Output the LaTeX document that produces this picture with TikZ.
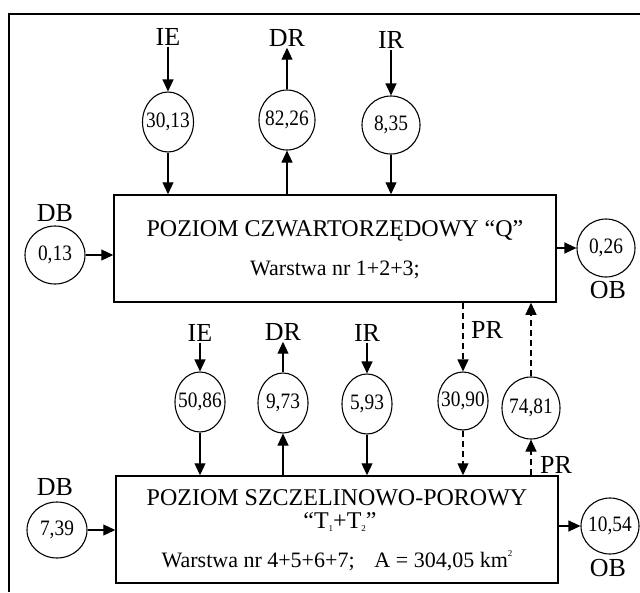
\documentclass[tikz,border=0pt]{standalone}
\usepackage{fontspec}
\setmainfont{Liberation Serif}
\usetikzlibrary{shapes.geometric,arrows.meta}
\newcommand{\numtxt}[1]{\makebox[0pt]{\scalebox{0.88}[1]{#1}}}
\newcommand{\smallidx}[1]{\raisebox{-0.25ex}{\fontsize{9}{9}\selectfont #1}}
\newcommand{\smallsup}[1]{\raisebox{1.1ex}{\fontsize{9}{9}\selectfont #1}}
\begin{document}
\begin{tikzpicture}[x=1pt,y=-1pt,
  circ/.style={ellipse,draw,line width=1.1pt,inner sep=0pt,minimum width=50pt,minimum height=60pt,font=\fontsize{22}{22}\selectfont},
  lab/.style={inner sep=1pt,font=\fontsize{26}{26}\selectfont},
  box/.style={draw,line width=1.5pt,minimum width=442pt,minimum height=107pt,inner sep=0pt},
  arr/.style={line width=1.1pt,-{Triangle[length=12pt,width=11pt]}},
  darr/.style={arr,dash pattern=on 6pt off 4pt},
  ttl/.style={inner sep=0pt,font=\fontsize{24}{24}\selectfont},
  sub/.style={inner sep=0pt,font=\fontsize{22}{22}\selectfont}]
\useasboundingbox (0,0) rectangle (640,592);
% frame
\coordinate (fr1) at (640,14);
\coordinate (fr2) at (9,14);
\coordinate (fr3) at (9,592);
\draw[line width=1.5pt] (fr1) -- (fr2) -- (fr3);

% boxes
\node[box] (Q) at (335,248.5) {};
\node[ttl] (qt1) at (335,231) {POZIOM CZWARTORZĘDOWY “Q”};
\node[sub] (qt2) at (335,270) {Warstwa nr 1+2+3;};

\node[box] (T) at (337,529.5) {};
\node[ttl] (tt1) at (337,498) {POZIOM SZCZELINOWO-POROWY};
\node[ttl] (tt2) at (340,522) {“T\smallidx{1}+T\smallidx{2}”};
\node[sub] (tt3) at (337,561) {Warstwa nr 4+5+6+7;\hspace{0.9em}A = 304,05 km\smallsup{2}};

% top row
\node[lab] (ie1) at (168,37) {IE};
\node[circ,minimum width=51pt] (c1) at (168,122) {\numtxt{30,13}};
\node[lab] (dr1) at (287,38) {DR};
\node[circ,minimum width=56pt] (c2) at (287,120) {\numtxt{82,26}};
\node[lab] (ir1) at (391,40) {IR};
\node[circ,minimum width=58pt,minimum height=58pt] (c3) at (391,125) {\numtxt{8,35}};
\draw[arr] (ie1) -- (c1);
\draw[arr] (c1) -- (c1 |- Q.north);
\draw[arr] (c2) -- (dr1);
\draw[arr] (c2 |- Q.north) -- (c2);
\draw[arr] (ir1) -- (c3);
\draw[arr] (c3) -- (c3 |- Q.north);

% left / right of Q
\node[lab] (db1) at (55,213) {DB};
\node[circ,minimum width=60pt,minimum height=58pt] (d1) at (55,255) {\numtxt{0,13}};
\draw[arr] (d1) -- (d1 -| Q.west);
\node[circ,minimum width=58pt,minimum height=58pt] (o1) at (606,248) {\numtxt{0,26}};
\node[lab] (ob1) at (608,290) {OB};
\draw[arr] (o1 -| Q.east) -- (o1);

% middle row
\node[lab] (ie2) at (200,333) {IE};
\node[circ] (c4) at (200,402) {\numtxt{50,86}};
\node[lab] (dr2) at (283,332) {DR};
\node[circ] (c5) at (283,403) {\numtxt{9,73}};
\node[lab] (ir2) at (367,333) {IR};
\node[circ] (c6) at (367,404) {\numtxt{5,93}};
\node[circ,minimum height=58pt] (c7) at (463,401) {\numtxt{30,90}};
\node[lab] (pr1) at (487,330) {PR};
\node[circ,minimum width=58pt,minimum height=62pt] (c8) at (531,408) {\numtxt{74,81}};
\node[lab] (pr2) at (556,465) {PR};

\draw[arr] (ie2) -- (c4);
\draw[arr] (c4) -- (c4 |- T.north);
\draw[arr] (c5) -- (dr2);
\draw[arr] (c5 |- T.north) -- (c5);
\draw[arr] (ir2) -- (c6);
\draw[arr] (c6) -- (c6 |- T.north);
\draw[darr] (c7 |- Q.south) -- (c7);
\draw[darr] (c7) -- (c7 |- T.north);
\draw[darr] (c8) -- (c8 |- Q.south);
\draw[darr] (c8 |- T.north) -- (c8);

% left / right of T
\node[lab] (db2) at (55,487) {DB};
\node[circ,minimum width=60pt,minimum height=56pt] (d2) at (57,530) {\numtxt{7,39}};
\draw[arr] (d2) -- (d2 -| T.west);
\node[circ,minimum width=58pt,minimum height=56pt] (o2) at (610,526) {\numtxt{10,54}};
\node[lab] (ob2) at (608,568) {OB};
\draw[arr] (o2 -| T.east) -- (o2);
\end{tikzpicture}
\end{document}
